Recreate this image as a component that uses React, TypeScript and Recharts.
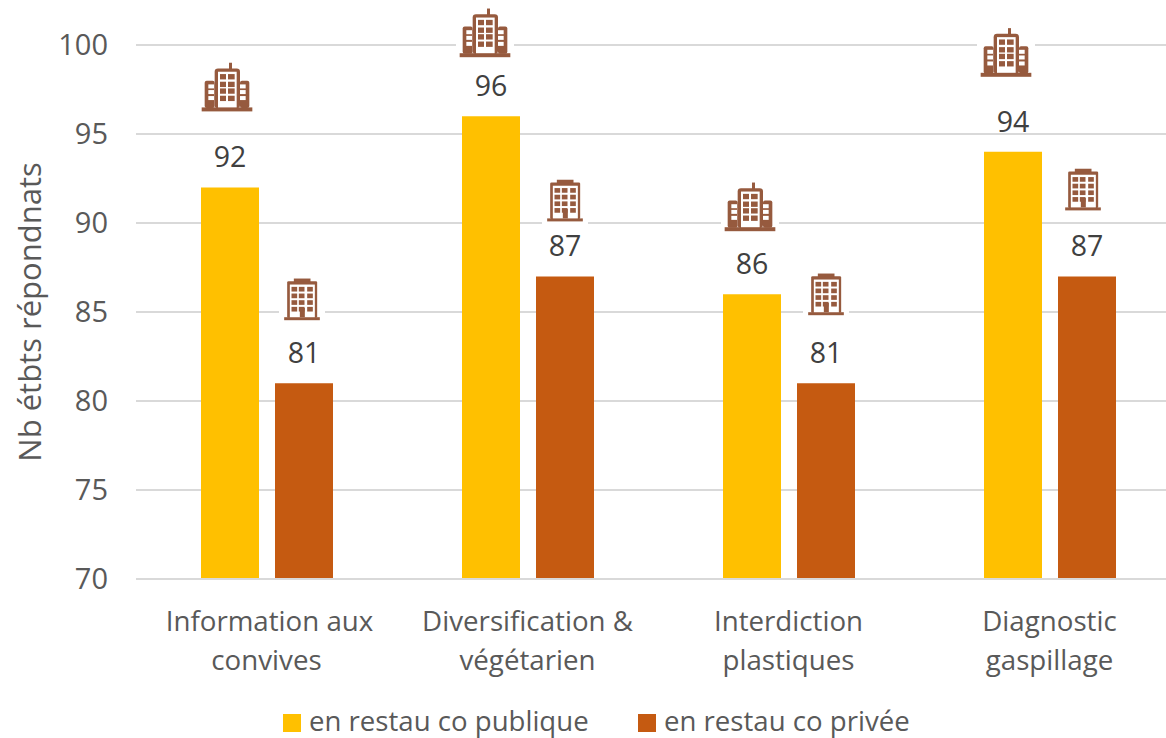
import { BarChart, Bar, XAxis, YAxis, CartesianGrid, LabelList, Legend } from "recharts";

const categories = [
  ["Information aux", "convives"],
  ["Diversification &", "végétarien"],
  ["Interdiction", "plastiques"],
  ["Diagnostic", "gaspillage"],
];
const publique = [92, 96, 86, 94];
const privee = [81, 87, 81, 87];
const yTicks = [70, 75, 80, 85, 90, 95, 100];

// how far each little building floats above its bar, and its sideways shift
const publicLift = [76, 59, 63, 75];
const publicShift = [-3, -6, -2, -7];
const privateLift = [63, 55, 68, 66];
const privateShift = [-2, 0, 0, -4];

const data = categories.map((c, i) => ({
  name: c.join(" "),
  publique: publique[i],
  privee: privee[i],
}));

const FONT = "'Open Sans', sans-serif";
const TEXT = "#595959";
const YELLOW = "#ffc000";
const ORANGE = "#c55a11";
const ICON = "#965a3e";

function PublicIcon({ cx, bottom }: { cx: number; bottom: number }) {
  const rows = [72, 95, 115, 137];
  const wingRows = [103, 120, 138];
  return (
    <g>
      <rect x={cx - 29} y={bottom - 50} width={58} height={52} fill="#fff" />
      <g transform={`translate(${cx},${bottom}) scale(0.3333) translate(-109,-184)`}>
        <rect x={33} y={172} width={152} height={12} fill={ICON} />
        <rect x={115} y={38} width={9} height={20} fill={ICON} />
        <rect x={72} y={55} width={76} height={120} rx={10} fill={ICON} />
        <rect x={82} y={65} width={56} height={107} fill="#fff" />
        <rect x={42} y={92} width={30} height={82} rx={6} fill={ICON} />
        <rect x={148} y={92} width={28} height={82} rx={6} fill={ICON} />
        {rows.map((y) => (
          <g key={y}>
            <rect x={88} y={y} width={18} height={16} fill={ICON} />
            <rect x={112} y={y} width={20} height={16} fill={ICON} />
          </g>
        ))}
        {wingRows.map((y) => (
          <g key={y}>
            <rect x={53} y={y} width={17} height={12} fill="#fff" />
            <rect x={148} y={y} width={17} height={12} fill="#fff" />
          </g>
        ))}
      </g>
    </g>
  );
}

function PrivateIcon({ cx, bottom }: { cx: number; bottom: number }) {
  const rows = [52, 72, 92, 112];
  const cols = [65, 87, 112];
  return (
    <g>
      <rect x={cx - 23} y={bottom - 42} width={46} height={45} fill="#fff" />
      <g transform={`translate(${cx},${bottom}) scale(0.3333) translate(-96.5,-152)`}>
        <rect x={43} y={143} width={107} height={9} fill={ICON} />
        <rect x={72} y={27} width={50} height={12} fill={ICON} />
        <rect x={52} y={35} width={90} height={110} rx={4} fill={ICON} />
        <rect x={60} y={45} width={75} height={98} fill="#fff" />
        {rows.map((y) =>
          cols.map((x) => <rect key={`${x}-${y}`} x={x} y={y} width={17} height={14} fill={ICON} />)
        )}
        <rect x={90} y={115} width={15} height={28} fill={ICON} />
      </g>
    </g>
  );
}

const makeLabel = (Icon: any, lift: number[], shift: number[]) => (props: any) => {
  const { x, y, width, value, index } = props;
  const cx = x + width / 2;
  return (
    <g>
      <Icon cx={cx + shift[index]} bottom={y - lift[index]} />
      <text x={cx} y={y - 20} textAnchor="middle" fontFamily={FONT} fontSize={28.5} fill="#404040">
        {value}
      </text>
    </g>
  );
};

const CategoryTick = ({ x, y, index }: any) => (
  <text x={x} y={y + 6} textAnchor="middle" fontFamily={FONT} fontSize={27.7} fill={TEXT}>
    {categories[index].map((line, i) => (
      <tspan key={i} x={x + (index === 0 && i === 0 ? 3 : 0)} dy={i === 0 ? 0 : 39}>
        {line}
      </tspan>
    ))}
  </text>
);

const LegendRow = ({ payload }: any) => (
  <div style={{ position: "relative", height: 30, fontFamily: FONT, fontSize: 27.6, color: TEXT }}>
    {(payload || []).map((item: any, i: number) => (
      <div key={item.value} style={{ position: "absolute", left: i === 0 ? 0 : 355, top: 0, whiteSpace: "nowrap", lineHeight: "30px" }}>
        <span style={{ display: "inline-block", width: 18, height: 18, background: item.color, marginRight: 8, verticalAlign: -1 }} />
        {item.value}
      </div>
    ))}
  </div>
);

export default function App() {
  return (
    <div style={{ position: "absolute", left: 0, top: 0, width: 1166, height: 738, overflow: "hidden", background: "#fff" }}>
      <BarChart
        width={1190}
        height={738}
        data={data}
        margin={{ top: 45, right: 10, left: 0, bottom: 0 }}
        barSize={58}
        barGap={16}
      >
        <CartesianGrid vertical={false} stroke="#d9d9d9" strokeWidth={2} />
        <XAxis
          dataKey="name"
          axisLine={{ stroke: "#d9d9d9", strokeWidth: 2 }}
          tickLine={false}
          height={159}
          tick={<CategoryTick />}
          tickMargin={40}
          interval={0}
        />
        <YAxis
          domain={[70, 100]}
          ticks={yTicks}
          width={136}
          axisLine={false}
          tickLine={false}
          tickMargin={22}
          tick={{ fontFamily: FONT, fontSize: 29, fill: TEXT }}
          label={{
            value: "Nb étbts répondnats",
            angle: -90,
            position: "insideLeft",
            offset: 30,
            style: { fontFamily: FONT, fontSize: 31, fill: TEXT, textAnchor: "middle" },
          }}
        />
        <Legend
          layout="horizontal"
          verticalAlign="middle"
          align="center"
          itemSorter={null}
          content={<LegendRow />}
          wrapperStyle={{ left: 283, top: 705, width: 700 }}
        />
        <Bar dataKey="publique" name="en restau co publique" fill={YELLOW} isAnimationActive={false}>
          <LabelList content={makeLabel(PublicIcon, publicLift, publicShift)} />
        </Bar>
        <Bar dataKey="privee" name="en restau co privée" fill={ORANGE} isAnimationActive={false}>
          <LabelList content={makeLabel(PrivateIcon, privateLift, privateShift)} />
        </Bar>
      </BarChart>
    </div>
  );
}
